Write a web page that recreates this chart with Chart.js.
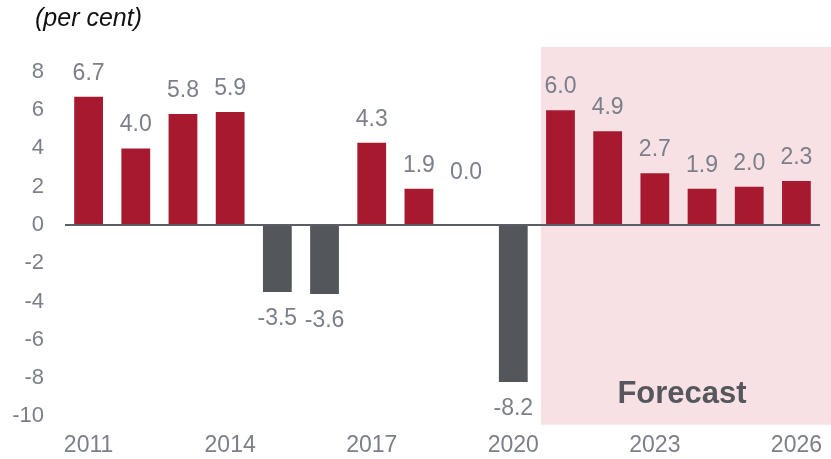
<!DOCTYPE html>
<html>
<head>
<meta charset="utf-8">
<script src="https://cdn.jsdelivr.net/npm/chart.js@4"></script>
<style>
  html, body { margin: 0; padding: 0; background: #fff; }
  #wrap { width: 831px; height: 459px; }
</style>
</head>
<body>
<div id="wrap"><canvas id="growthChart" width="831" height="459"></canvas></div>
<script>
const years = ['2011', '2012', '2013', '2014', '2015', '2016', '2017', '2018',
               '2019', '2020', '2021', '2022', '2023', '2024', '2025', '2026'];
const growth = [6.7, 4.0, 5.8, 5.9, -3.5, -3.6, 4.3, 1.9, 0.0, -8.2, 6.0, 4.9, 2.7, 1.9, 2.0, 2.3];
const yTicks = [-10, -8, -6, -4, -2, 0, 2, 4, 6, 8];
const forecastFrom = '2021';

const RED = '#a6192e';
const GREY = '#53565a';
const TEXT = '#7a7f89';
const FONT = '"Liberation Sans", Arial, sans-serif';

// pink forecast box, labels, zero line and unit title
const decorations = {
    id: 'decorations',
    beforeDatasetsDraw(chart) {
        const { ctx, chartArea, scales } = chart;
        const i = years.indexOf(forecastFrom);
        const x0 = (scales.x.getPixelForValue(i - 1) + scales.x.getPixelForValue(i)) / 2 + 4;
        ctx.save();
        ctx.fillStyle = '#f8e1e5';
        ctx.fillRect(x0, chartArea.top, chart.width - x0, chartArea.bottom - chartArea.top);
        ctx.restore();
    },
    afterDatasetsDraw(chart) {
        const { ctx, chartArea, scales } = chart;
        const zeroY = scales.y.getPixelForValue(0);
        ctx.save();
        ctx.strokeStyle = '#5b5e66';
        ctx.lineWidth = 2;
        ctx.beginPath();
        ctx.moveTo(chartArea.left, zeroY);
        ctx.lineTo(chartArea.right, zeroY);
        ctx.stroke();

        // value labels
        ctx.font = '23px ' + FONT;
        ctx.fillStyle = TEXT;
        ctx.textAlign = 'center';
        ctx.textBaseline = 'alphabetic';
        const meta = chart.getDatasetMeta(0);
        meta.data.forEach((bar, idx) => {
            const v = growth[idx];
            let y;
            if (v < 0) {
                y = bar.y + 33;
            } else {
                y = Math.min(bar.y, zeroY - 29) - 17;
            }
            ctx.fillText(v.toFixed(1), bar.x, y);
        });

        // forecast caption
        ctx.font = 'bold 31px ' + FONT;
        ctx.fillStyle = '#55575c';
        ctx.fillText('Forecast', 682, 403);

        // unit
        ctx.font = 'italic 25px ' + FONT;
        ctx.fillStyle = '#111111';
        ctx.textAlign = 'left';
        ctx.fillText('(per cent)', 35, 26);
        ctx.restore();
    }
};

const chart = new Chart(document.getElementById('growthChart'), {
    type: 'bar',
    data: {
        labels: years,
        datasets: [{
            data: growth,
            backgroundColor: growth.map(v => v < 0 ? GREY : RED),
            barPercentage: 0.61,
            categoryPercentage: 1.0,
            borderWidth: 0
        }]
    },
    options: {
        responsive: false,
        animation: false,
        layout: { autoPadding: false, padding: { top: 47, right: 0, left: 0, bottom: 0 } },
        plugins: {
            legend: { display: false },
            tooltip: { enabled: false }
        },
        scales: {
            x: {
                grid: { display: false, drawTicks: false },
                border: { display: false },
                ticks: {
                    autoSkip: false,
                    maxRotation: 0,
                    padding: 9,
                    color: TEXT,
                    font: { family: FONT, size: 23, lineHeight: 1 },
                    callback: function(value, index) {
                        return index % 3 === 0 ? this.getLabelForValue(value) : '';
                    }
                },
                afterFit: scale => { scale.height = 32; }
            },
            y: {
                min: -10.44,
                max: 9.3,
                grid: { display: false, drawTicks: false },
                border: { display: false },
                afterBuildTicks: scale => { scale.ticks = yTicks.map(v => ({ value: v })); },
                ticks: {
                    padding: 21,
                    color: TEXT,
                    font: { family: FONT, size: 22 }
                },
                afterFit: scale => { scale.width = 65; }
            }
        }
    },
    plugins: [decorations]
});
</script>
</body>
</html>
